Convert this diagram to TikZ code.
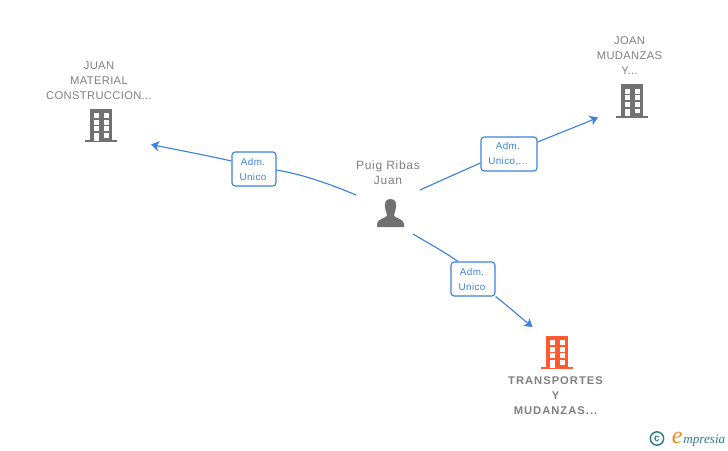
\documentclass[tikz,border=0pt]{standalone}
\usepackage{fontspec}
\setmainfont{Liberation Sans}
\newfontfamily\nametext[LetterSpace=3]{Liberation Sans}
\newfontfamily\puigtext[LetterSpace=6]{Liberation Sans}
\newfontfamily\boldtext[LetterSpace=9]{Liberation Sans Bold}
\newfontfamily\edgetext[LetterSpace=4]{Liberation Sans}
\newfontfamily\logotext{Liberation Serif Italic}
\usetikzlibrary{arrows.meta}
\definecolor{linkblue}{HTML}{3C82DC}
\definecolor{labelgrey}{HTML}{808080}
\definecolor{icongrey}{HTML}{717171}
\definecolor{accent}{HTML}{FF5A30}
\definecolor{logoteal}{HTML}{2F7C8F}
\definecolor{logoorange}{HTML}{F08A1D}
\newcommand{\rl}[1]{\raisebox{-.75pt}{#1\kern1.5pt}}
\tikzset{
  x=0.75pt,y=-0.75pt,
  nameline/.style={text=labelgrey,align=center,font=\nametext\fontsize{8.4pt}{11.25pt}\selectfont,inner sep=0pt},
  puigline/.style={text=labelgrey,align=center,font=\puigtext\fontsize{9pt}{11.25pt}\selectfont,inner sep=0pt},
  boldline/.style={text=labelgrey,align=center,font=\boldtext\fontsize{8.4pt}{11.25pt}\selectfont,inner sep=0pt},
  rolebox/.style={draw=linkblue,line width=0.85pt,rounded corners=2.4pt,fill=white,text=linkblue,align=center,
    font=\edgetext\fontsize{7.4pt}{11.25pt}\selectfont,inner sep=0pt},
  link/.style={draw=linkblue,line width=0.85pt},
  arrowlink/.style={link,-{Stealth[length=6pt,width=7.5pt,inset=1.6pt]}},
  pics/building/.style={code={
    \fill[#1] (-11,-17) rectangle (11,15);
    \fill[#1] (-16,14.5) rectangle (16,16.5);
    \foreach \r in {-12.5,-6,0.5}{
      \fill[white] (-7,\r) rectangle ++(5,5);
      \fill[white] (3,\r) rectangle ++(5,5);
    }
    \fill[white] (-7,7.5) rectangle (-2,15);
    \fill[white] (3,7.5) rectangle (8,12);
  }},
}
\begin{document}
\begin{tikzpicture}
\useasboundingbox (0,0) rectangle (728,450);
\fill[white] (0,0) rectangle (728,450);

% buildings
\pic at (101,125.5) {building=icongrey};
\pic at (631.5,101) {building=icongrey};
\pic at (557,352.5) {building=accent};

% person
\fill[icongrey] (390.5,199) .. controls (385.5,199) and (384.5,203) .. (385,207) .. controls (385.3,211) and (387,213) .. (387,215.5)
  .. controls (387,218) and (377,218.5) .. (377,224) -- (377,227) -- (404,227) -- (404,224) .. controls (404,218.5) and (394,218) .. (394,215.5)
  .. controls (394,213) and (395.7,211) .. (396,207) .. controls (396.5,203) and (395.5,199) .. (390.5,199) -- cycle;

% names
\node[nameline] (juan) at (99,80.5) {JUAN\\MATERIAL\\CONSTRUCCION...};
\node[nameline] (joan) at (629.5,55.5) {JOAN\\MUDANZAS\\Y...};
\node[puigline] (puig) at (388,172.5) {Puig Ribas\\Juan};
\node[boldline] (transp) at (555.5,395.5) {TRANSPORTES\\Y\\MUDANZAS...};

% anchors of links
\coordinate (s1) at (356,195);
\coordinate (t1) at (151,144.5);
\coordinate (s2) at (420,190);
\coordinate (t2) at (598,117.5);
\coordinate (s3) at (413,234);
\coordinate (t3) at (532.5,327);

% role boxes
\node[rolebox,minimum width=33pt,minimum height=25.5pt] (r1) at (254,169) {\rl{Adm.}\\\rl{Unico}};
\node[rolebox,minimum width=42pt,minimum height=25.5pt] (r2) at (509,154) {\rl{Adm.}\\\rl{Unico,...}};
\node[rolebox,minimum width=33pt,minimum height=25.5pt] (r3) at (473,279) {\rl{Adm.}\\\rl{Unico}};

% links
\draw[link] (s1) .. controls (325,182) and (300,174) .. (r1.east |- 0,170);
\draw[arrowlink] (r1.west |- 0,161) .. controls (205,155) and (178,150) .. (t1);
\draw[link] (s2) .. controls (440,181) and (460,172) .. (r2.west |- 0,163);
\draw[arrowlink] (r2.east |- 0,142) .. controls (560,133) and (580,125) .. (t2);
\draw[link] (s3) .. controls (428,243) and (443,251) .. (458,261.5);
\draw[arrowlink] (r3.south east) .. controls (508,306) and (520,317) .. (t3);

% logo
\node[circle,draw=logoteal,line width=1.1pt,text=logoteal,inner sep=0pt,minimum size=10pt,font=\bfseries\fontsize{7.5pt}{7.5pt}\selectfont] (copy) at (657,438.5) {c};
\node[anchor=base west,inner sep=0pt,text=logoorange,font=\logotext\fontsize{18pt}{18pt}\selectfont] (logoe) at (671.5,443) {e};
\node[anchor=base west,inner sep=0pt,text=logoteal,font=\logotext\fontsize{9.9pt}{10pt}\selectfont] (logor) at (683,443) {mpresia};
\end{tikzpicture}
\end{document}
